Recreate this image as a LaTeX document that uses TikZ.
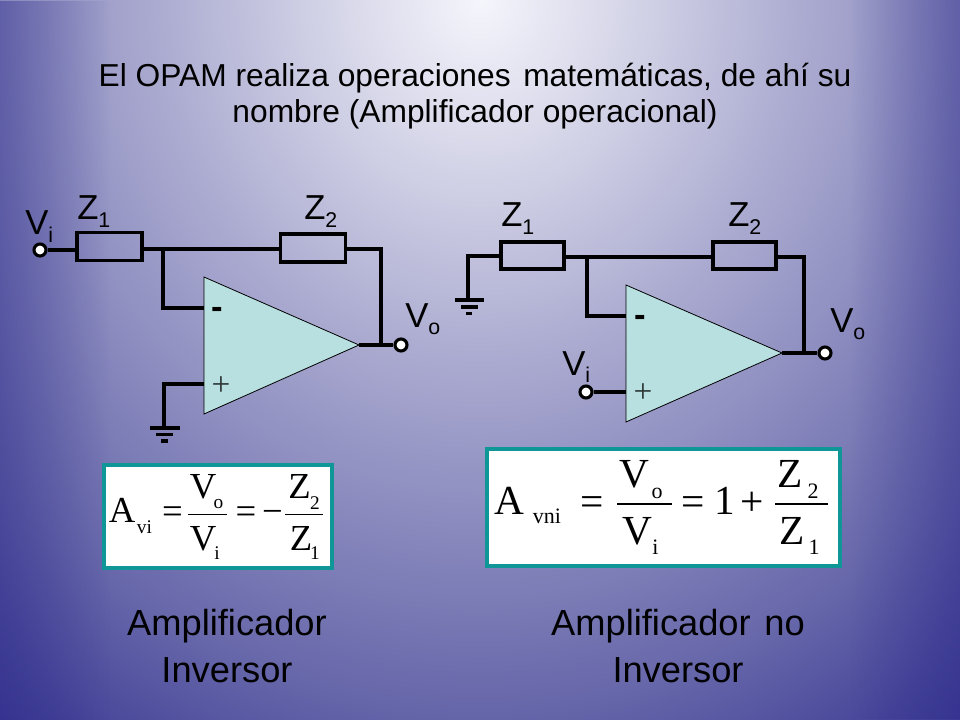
\documentclass[tikz,border=0pt]{standalone}
\usepackage{fontspec}
\usetikzlibrary{fadings}
\setmainfont{Liberation Sans}
\newfontfamily\serifnum{Liberation Serif}
\definecolor{bgA}{HTML}{F5F5FC}
\definecolor{bgB}{HTML}{D8D8EA}
\definecolor{bgC}{HTML}{ADADD2}
\definecolor{bgD}{HTML}{6666AA}
\definecolor{bgE}{HTML}{2E2C8C}
\definecolor{opfill}{HTML}{B8E0E0}
\definecolor{teal}{HTML}{0F9696}
\pgfdeclareradialshading{bgshade}{\pgfpoint{0bp}{0bp}}{color(0bp)=(bgA); color(3.9bp)=(bgB); color(9.15bp)=(bgC); color(18.65bp)=(bgD); color(25bp)=(bgE); color(50bp)=(bgE)}
\tikzfading[name=sidefade,left color=transparent!55,right color=transparent!100]
\newcommand{\fs}[1]{\fontsize{#1}{#1}\selectfont}
\newcommand{\lab}[2]{#1\raisebox{-0.22em}{\fs{16}#2}}
\tikzset{
  wire/.style={line width=2.3pt,line join=miter},
  res/.style={draw=black,line width=2.6pt,inner sep=0pt,rectangle},
  term/.style={circle,draw=black,fill=white,line width=2.3pt,minimum size=9pt,inner sep=0pt},
  opamp/.style={draw=black,fill=opfill,line width=0.6pt,line join=miter},
  sym/.style={inner sep=0pt,anchor=base west,text=black,font=\fs{26}},
  big/.style={inner sep=0pt,align=center,font=\fs{27.2},text=black},
  formbox/.style={draw=teal,fill=white,line width=2.8pt,inner sep=0pt,rectangle},
  ff/.style={inner sep=0pt,anchor=base,font=\serifnum\fs{27.5},text=black},
  fs1/.style={inner sep=0pt,anchor=base,font=\serifnum\fs{14.5},text=black},
  gg/.style={inner sep=0pt,anchor=base,font=\serifnum\fs{31},text=black},
  gs1/.style={inner sep=0pt,anchor=base,font=\serifnum\fs{16.5},text=black},
  fl/.style={line width=1.1pt,draw=black}
}
\begin{document}
\begin{tikzpicture}[x=0.75pt,y=-0.75pt]
\useasboundingbox (0,0) rectangle (960,720);
\begin{scope}
\clip (0,0) rectangle (960,720);
\fill[bgE] (0,0) rectangle (960,720);
\shade[shading=bgshade] (480,0) ellipse [x radius=860,y radius=951];
\fill[bgE,path fading=sidefade] (0,0) rectangle (110,720);
\fill[bgE,path fading=sidefade,fading angle=180] (850,0) rectangle (960,720);
\end{scope}
% title
\node[inner sep=0pt,anchor=base] (title1) at (475,87) {\fs{23.8}El OPAM realiza operaciones\hspace{0.12em} matemáticas, de ahí su};
\node[inner sep=0pt,anchor=base] (title2) at (475,123) {\fs{23.8}nombre (Amplificador operacional)};

% LEFT circuit
\node[res,minimum width=49pt,minimum height=21pt] (lz1) at (109.5,246.5) {};
\node[res,minimum width=49pt,minimum height=21pt] (lz2) at (313,248) {};
\node[term] (lvi) at (40,250) {};
\node[term] (lvo) at (401,345) {};
\coordinate (la) at (204,277); \coordinate (lb) at (204,414); \coordinate (lc) at (359,345);
\coordinate (lj) at (163,249); \coordinate (lm) at (204,308); \coordinate (lp) at (204,384);
\coordinate (lr) at (381,249); \coordinate (lq) at (381,345);
\coordinate (lg) at (164,428); \coordinate (lg0) at (164,384);
\draw[wire] (lvi) -- (lvi -| lz1.west);
\draw[wire] (lz1.east |- lj) -- (lz2.west |- lj);
\draw[wire] (lz2.east |- lr) -- (lr) -- (lq);
\draw[wire] (lj) |- (lm);
\draw[wire] (lp) -- (lg0) -- (lg);
\draw[opamp] (la) -- (lb) -- (lc) -- cycle;
\draw[wire] (lc) -- (lvo);
\draw[wire] (150,428) -- (180,428);
\draw[wire] (156,434.5) -- (173,434.5);
\draw[wire] (161,441) -- (168,441);
\node[inner sep=0pt,font=\bfseries\fs{26}] (lminus) at (217,313) {-};
\node[inner sep=0pt,font=\serifnum\fs{25},text=black!75!opfill] (lplus) at (221,386) {+};
\node[sym] (tlz1) at (77,220) {\lab{Z}{1}};
\node[sym] (tlz2) at (304,220) {\lab{Z}{2}};
\node[sym] (tlvi) at (25,235) {\lab{V}{i}};
\node[sym] (tlvo) at (405,327) {\lab{V}{o}};

% RIGHT circuit
\node[res,minimum width=47.5pt,minimum height=20pt] (rz1) at (532.5,255.5) {};
\node[res,minimum width=47.5pt,minimum height=20pt] (rz2) at (744.5,255.5) {};
\node[term] (rvi) at (586,392) {};
\node[term] (rvo) at (825,353) {};
\coordinate (ra) at (626,285); \coordinate (rb) at (626,422); \coordinate (rc) at (782,353);
\coordinate (rj) at (587,257); \coordinate (rm) at (626,316); \coordinate (rp) at (626,392);
\coordinate (rr) at (804,257); \coordinate (rq) at (804,353);
\coordinate (rg0) at (468,256); \coordinate (rg) at (468,300);
\draw[wire] (rg) -- (rg0) -- (rg0 -| rz1.west);
\draw[wire] (rz1.east |- rj) -- (rz2.west |- rj);
\draw[wire] (rz2.east |- rr) -- (rr) -- (rq);
\draw[wire] (rj) |- (rm);
\draw[wire] (rvi) -- (rp);
\draw[opamp] (ra) -- (rb) -- (rc) -- cycle;
\draw[wire] (rc) -- (rvo);
\draw[wire] (455,300) -- (484,300);
\draw[wire] (461,307) -- (478,307);
\draw[wire] (466,313.5) -- (472,313.5);
\node[inner sep=0pt,font=\bfseries\fs{26}] (rminus) at (640,321) {-};
\node[inner sep=0pt,font=\serifnum\fs{25},text=black!75!opfill] (rplus) at (643,393) {+};
\node[sym] (trz1) at (501,227) {\lab{Z}{1}};
\node[sym] (trz2) at (728,227) {\lab{Z}{2}};
\node[sym] (trvi) at (562,375) {\lab{V}{i}};
\node[sym] (trvo) at (830,332) {\lab{V}{o}};

% left formula
\node[formbox,minimum width=170.5pt,minimum height=77.5pt] (fbl) at (218,516.5) {};
\node[ff] (fla) at (122,522) {A};
\node[fs1] (flsub) at (144.5,533) {vi};
\node[ff] (fleq) at (172.5,523) {=};
\node[ff] (flvo) at (203,498) {V};
\node[fs1] (flvosub) at (218.5,508) {o};
\node[ff] (flvi) at (203,550) {V};
\node[fs1] (flvisub) at (217,559) {i};
\draw[fl] (188,514.5) -- (227,514.5);
\node[ff] (fleq2) at (246,523) {=};
\node[ff] (flm) at (272.5,523) {−};
\node[ff] (flz2) at (299.5,498) {Z};
\node[fs1] (flz2sub) at (315,509) {2};
\node[ff] (flz1) at (301,550) {Z};
\node[fs1] (flz1sub) at (315,559) {1};
\draw[fl] (285,514.5) -- (323,514.5);

% right formula
\node[formbox,minimum width=265pt,minimum height=87.5pt] (fbr) at (663.5,507.5) {};
\node[gg] (fra) at (509,514) {A};
\node[gs1] (frsub) at (547,523) {vni};
\node[gg] (freq) at (592,515) {=};
\node[gg] (frvo) at (634.5,487) {V};
\node[gs1] (frvosub) at (657,498) {o};
\node[gg] (frvi) at (637.5,544) {V};
\node[gs1] (frvisub) at (655.5,554) {i};
\draw[fl] (617,504) -- (672,504);
\node[gg] (freq2) at (693,515) {=};
\node[gg] (frone) at (724.5,514) {1};
\node[gg] (frplus) at (752,515) {+};
\node[gg] (frz2) at (790,487) {Z};
\node[gs1] (frz2sub) at (813,498) {2};
\node[gg] (frz1) at (792.5,544) {Z};
\node[gs1] (frz1sub) at (814,554) {1};
\draw[fl] (775,504) -- (828,504);

% captions
\node[big] (capl) at (227,646) {Amplificador\\[8pt]Inversor};
\node[big] (capr) at (678,646) {Amplificador\hspace{0.1em} no\\[8pt]Inversor};
\end{tikzpicture}
\end{document}
